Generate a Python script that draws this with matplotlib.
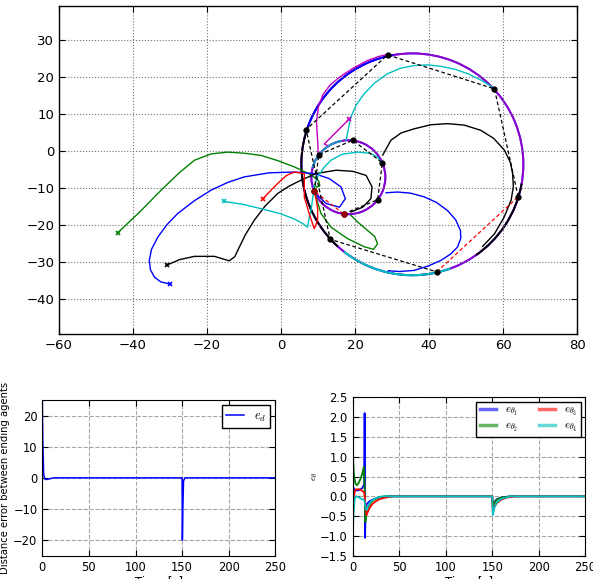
import numpy as np
import matplotlib
matplotlib.use("Agg")
import matplotlib.pyplot as plt
from matplotlib.patches import Arc
from matplotlib.lines import Line2D

plt.rcParams['mathtext.fontset'] = 'cm'

# ---------------- data: trajectories (x, y) ----------------
green_x = [-44.1, -38.0, -32.4, -27.5, -23.4, -18.9, -14.4, -9.9, -5.4, -0.9, 3.6, 7.0, 9.0, 10.2, 10.5, 9.7, 9.0, 9.1, 9.6, 10.8, 13.5, 18.0, 22.5, 25.0, 26.1, 25.3, 23.4, 20.7, 18.9]
green_y = [-22.0, -16.2, -10.5, -5.8, -2.4, -0.7, -0.2, -0.5, -1.1, -2.5, -4.2, -5.8, -7.0, -8.0, -9.3, -9.7, -8.9, -10.8, -12.8, -16.8, -20.5, -23.6, -25.8, -26.5, -25.0, -23.0, -21.4, -19.1, -17.3]

blue_x = [-30.0, -32.5, -34.2, -35.3, -35.6, -35.0, -33.3, -30.8, -27.9, -23.5, -18.9, -14.4, -9.9, -3.2, 3.6, 9.0, 13.1, 16.2, 17.4, 15.8, 12.2, 9.9]
blue_y = [-35.9, -35.3, -34.0, -32.0, -29.5, -26.5, -23.2, -19.8, -16.8, -13.4, -10.5, -8.4, -6.9, -5.8, -5.6, -6.0, -7.4, -9.6, -12.8, -15.1, -14.1, -11.9]
blue2_x = [28.4, 31.5, 35.0, 38.7, 42.0, 45.0, 47.2, 48.5, 48.6, 47.7, 45.8, 43.2, 39.8, 36.0, 32.0, 29.0]
blue2_y = [-11.2, -11.0, -11.3, -12.3, -13.8, -16.0, -18.5, -21.4, -23.5, -25.9, -27.8, -29.5, -31.0, -32.2, -32.5, -32.3]

black_x = [-30.9, -27.5, -23.4, -18.0, -14.0, -12.5, -11.7, -9.6, -7.2, -4.3, -0.9, 2.2, 5.4, 9.5, 14.9, 19.4, 23.0, 24.6, 24.3, 22.1, 18.9]
black_y = [-30.8, -29.3, -28.4, -28.4, -29.6, -28.5, -26.8, -22.5, -18.6, -14.8, -11.4, -9.4, -7.8, -6.0, -5.1, -5.4, -6.5, -9.6, -12.8, -15.1, -16.4]
black2_x = [27.5, 29.7, 32.5, 36.0, 40.5, 45.0, 49.5, 54.0, 57.5, 60.4, 62.0, 62.6, 62.8, 62.2, 60.3, 57.7, 54.5]
black2_y = [-1.0, 3.0, 5.0, 6.1, 7.2, 7.5, 7.1, 5.7, 3.5, 0.3, -3.0, -6.0, -9.5, -13.2, -17.8, -22.3, -25.7]

cyan_x = [-15.4, -10.0, -5.4, 0.0, 3.6, 5.8, 7.2, 7.6, 8.1, 8.6, 8.9, 9.9, 11.5, 13.5, 16.5, 20.7, 24.0, 26.1, 27.5]
cyan_y = [-13.5, -14.4, -15.5, -16.9, -18.3, -19.5, -20.5, -18.0, -15.9, -12.5, -9.6, -6.9, -4.5, -2.4, -0.8, -0.2, -0.5, -1.5, -3.8]
cyan2_x = [17.6, 18.2, 18.9, 20.3, 22.5, 25.3, 28.8, 32.3, 36.0, 39.6, 43.2, 47.0, 50.5, 54.2, 57.7]
cyan2_y = [3.0, 6.0, 9.3, 12.5, 15.6, 18.5, 21.0, 22.5, 23.2, 23.4, 23.0, 22.2, 21.0, 19.2, 17.0]

magenta_x = [18.5, 15.0, 11.7, 12.5]
magenta_y = [8.8, 5.3, 2.0, 1.6]
magenta2_x = [10.0, 10.0, 9.8, 9.6, 10.1, 11.3, 13.3, 16.0, 19.5, 23.4, 26.5, 28.8]
magenta2_y = [-0.5, 1.5, 4.5, 8.0, 12.0, 15.3, 18.0, 20.2, 22.5, 24.6, 25.7, 26.2]

red_x = [-4.9, -2.7, -0.5, 1.5, 3.6, 5.0, 6.3, 6.3, 6.3, 7.0, 7.6, 8.3, 9.0, 9.9, 9.9, 9.5, 9.0]
red_y = [-12.8, -10.5, -8.3, -6.5, -5.6, -5.8, -6.0, -9.0, -12.4, -14.7, -16.8, -18.9, -20.9, -18.6, -15.5, -13.0, -11.0]

# formation circles
small_center = (18.2, -7.0)
small_radius = 10.0
big_center = (35.5, -3.5)
big_radius = 30.0

# agent positions on the circles (chain order)
small_pts_x = [9.0, 10.2, 19.4, 27.4, 26.1, 16.9]
small_pts_y = [-10.8, -0.9, 3.0, -3.1, -13.1, -16.9]
big_pts_x = [64.1, 57.7, 28.8, 6.8, 13.3, 42.1]
big_pts_y = [-12.3, 16.9, 26.1, 5.9, -23.8, -32.6]

# ---------------- data: distance error ----------------
ed_t = [0, 0.5, 1.5, 3, 5, 8, 12, 150, 150.3, 150.8, 151.5, 153, 250]
ed_v = [25, 12, 1, -0.5, -0.5, -0.3, 0, 0, -20, -10, -1, 0, 0]

# ---------------- data: angle errors ----------------
th1_t = [0, 1, 3, 6, 10, 12.4, 12.8, 13.3, 14, 15, 17, 20, 25, 30, 40, 150, 150.6, 152, 155, 160, 170, 250]
th1_v = [0.3, 0.2, 0.15, 0.15, 0.2, 0.3, 2.1, -1.05, -0.3, -0.2, -0.15, -0.1, -0.05, -0.02, 0, 0, -0.28, -0.15, -0.07, -0.03, 0, 0]
th2_t = [0, 0.5, 1.5, 3, 4.5, 6, 8, 10, 12, 12.8, 13.6, 14.5, 16, 19, 22, 27, 35, 150, 150.6, 152, 155, 160, 170, 250]
th2_v = [1.5, 0.9, 0.5, 0.32, 0.28, 0.32, 0.42, 0.55, 0.75, 0.2, -0.65, -0.45, -0.3, -0.18, -0.1, -0.04, 0, 0, -0.3, -0.17, -0.08, -0.03, 0, 0]
th3_t = [0, 1, 2, 3, 6, 9, 11, 12.5, 14, 15, 16.5, 18, 21, 24, 28, 32, 42, 150, 150.6, 152, 155, 160, 166, 175, 250]
th3_v = [-0.5, -0.1, 0.1, 0.17, 0.18, 0.16, 0.12, 0.1, -0.3, -0.47, -0.38, -0.3, -0.2, -0.14, -0.08, -0.05, 0, 0, -0.39, -0.28, -0.17, -0.08, -0.03, 0, 0]
th4_t = [0, 1, 2, 3, 6, 9, 11, 12.5, 14, 15, 17, 20, 23, 27, 32, 150, 150.6, 152, 155, 160, 170, 250]
th4_v = [-1.0, -0.4, -0.1, 0.0, -0.02, -0.06, -0.08, -0.1, -0.3, -0.35, -0.22, -0.12, -0.07, -0.03, 0, 0, -0.47, -0.3, -0.15, -0.06, 0, 0]

# ---------------- figure ----------------
fig = plt.figure(figsize=(5.93, 5.79), dpi=100)

B, G, R, C, M, K = 'b', (0, 0.5, 0), 'r', (0, 0.75, 0.75), (0.75, 0, 0.75), 'k'

ax = fig.add_axes([59/593, 1-334/579, 518/593, 328.3/579])
lw = 1.0
ax.plot(green_x, green_y, color=G, lw=lw)
ax.plot(blue_x, blue_y, color=B, lw=lw)
ax.plot(blue2_x, blue2_y, color=B, lw=lw)
ax.plot(black_x, black_y, color=K, lw=lw)
ax.plot(black2_x, black2_y, color=K, lw=lw)
ax.plot(cyan_x, cyan_y, color=C, lw=lw)
ax.plot(cyan2_x, cyan2_y, color=C, lw=lw)
ax.plot(magenta_x, magenta_y, color=M, lw=lw)
ax.plot(magenta2_x, magenta2_y, color=M, lw=lw)
ax.plot(red_x, red_y, color=R, lw=lw)

# start markers
for xs, ys, c in [(green_x, green_y, G), (blue_x, blue_y, B), (black_x, black_y, K),
                  (cyan_x, cyan_y, C), (magenta_x, magenta_y, M), (red_x, red_y, R)]:
    ax.plot(xs[0], ys[0], marker='x', color=c, ms=3.5, mew=1.2)

# circles
d = 2 * big_radius
ax.add_patch(Arc(big_center, d, d, theta1=0, theta2=360, color=B, lw=1.4))
ax.add_patch(Arc(big_center, d, d, theta1=0, theta2=360, color=M, lw=1.4, alpha=0.75))
ax.add_patch(Arc(big_center, d, d, theta1=160, theta2=228, color=K, lw=1.4))
ax.add_patch(Arc(big_center, d, d, theta1=305, theta2=350, color=K, lw=1.4))
ax.add_patch(Arc(big_center, d, d, theta1=232, theta2=290, color=C, lw=1.5))
ax.add_patch(Arc(big_center, d, d, theta1=100, theta2=160, color=B, lw=1.4))
ds = 2 * small_radius
ax.add_patch(Arc(small_center, ds, ds, theta1=0, theta2=360, color=B, lw=1.4))
ax.add_patch(Arc(small_center, ds, ds, theta1=0, theta2=360, color=M, lw=1.4, alpha=0.75))
ax.add_patch(Arc(small_center, ds, ds, theta1=100, theta2=165, color=C, lw=1.4, alpha=0.8))

# formation chains (closed, last edge red)
def chain(px, py):
    ax.plot(px, py, 'k--', lw=0.9, dashes=(3, 2))
    ax.plot([px[-1], px[0]], [py[-1], py[0]], 'r--', lw=0.9, dashes=(3, 2))
chain(small_pts_x, small_pts_y)
chain(big_pts_x, big_pts_y)
ax.plot(small_pts_x, small_pts_y, 'o', ls='none', color='k', ms=3.5)
ax.plot(big_pts_x, big_pts_y, 'o', ls='none', color='k', ms=3.5)
ax.plot([small_pts_x[0], small_pts_x[-1]], [small_pts_y[0], small_pts_y[-1]], 'o', ls='none', color=(0.6, 0, 0), ms=3.5)

ax.set_xlim(-60, 80)
ax.set_ylim(-49.4, 39.4)
ax.set_xticks(np.arange(-60, 81, 20))
ax.set_yticks(np.arange(-40, 31, 10))
ax.grid(True, ls=':', color='0.45', lw=0.8)
ax.tick_params(direction='in', labelsize=9.5, length=4, top=True, right=True)
for s in ax.spines.values():
    s.set_linewidth(1.0)

# ---------------- bottom-left ----------------
ax2 = fig.add_axes([42.3/593, 1-555.7/579, 233/593, 155.7/579])
ax2.plot(ed_t, ed_v, color='b', lw=1.1, label='$e_d$')
ax2.set_xlim(0, 250)
ax2.set_ylim(-25, 25)
ax2.set_xticks([0, 50, 100, 150, 200, 250])
ax2.set_yticks([-20, -10, 0, 10, 20])
ax2.grid(True, ls='--', color='0.65', lw=0.8)
ax2.tick_params(direction='in', labelsize=8.3, length=4, top=True, right=True)
ax2.set_xlabel('Time [s]', fontsize=8.5, labelpad=1)
ax2.set_ylabel('Distance error between ending agents', fontsize=7.2, labelpad=2)
leg = ax2.legend(loc='upper right', fontsize=9, fancybox=False, framealpha=1,
                 handlelength=1.4, handletextpad=0.8, borderpad=0.35, borderaxespad=0.4)
leg.get_frame().set_edgecolor('k')

# ---------------- bottom-right ----------------
ax3 = fig.add_axes([352.7/593, 1-555.7/579, 232.6/593, 158.4/579])
ax3.plot(th1_t, th1_v, color='b', lw=1.3)
ax3.plot(th2_t, th2_v, color=(0, 0.5, 0), lw=1.3)
ax3.plot(th3_t, th3_v, color='r', lw=1.3)
ax3.plot(th4_t, th4_v, color=(0, 0.75, 0.75), lw=1.3)
ax3.set_xlim(0, 250)
ax3.set_ylim(-1.5, 2.5)
ax3.set_xticks([0, 50, 100, 150, 200, 250])
ax3.set_yticks(np.arange(-1.5, 2.51, 0.5))
ax3.grid(True, ls='--', color='0.65', lw=0.8)
ax3.tick_params(direction='in', labelsize=8.3, length=4, top=True, right=True)
ax3.set_xlabel('Time [s]', fontsize=8.5, labelpad=1)
ax3.set_ylabel(r'$e_\theta$', fontsize=7, labelpad=0)
handles = [Line2D([], [], color=c, lw=2.5, alpha=0.6) for c in
           ['b', (0, 0.5, 0), 'r', (0, 0.75, 0.75)]]
labels = [r'$e_{\theta_1}$', r'$e_{\theta_2}$', r'$e_{\theta_3}$', r'$e_{\theta_4}$']
leg3 = ax3.legend(handles, labels, loc='upper right', ncol=2, fontsize=8,
                  fancybox=False, framealpha=1, handlelength=1.5, columnspacing=1.8,
                  labelspacing=0.2, borderpad=0.3, borderaxespad=0.4)
leg3.get_frame().set_edgecolor('k')

fig.savefig('out.png', dpi=100)
